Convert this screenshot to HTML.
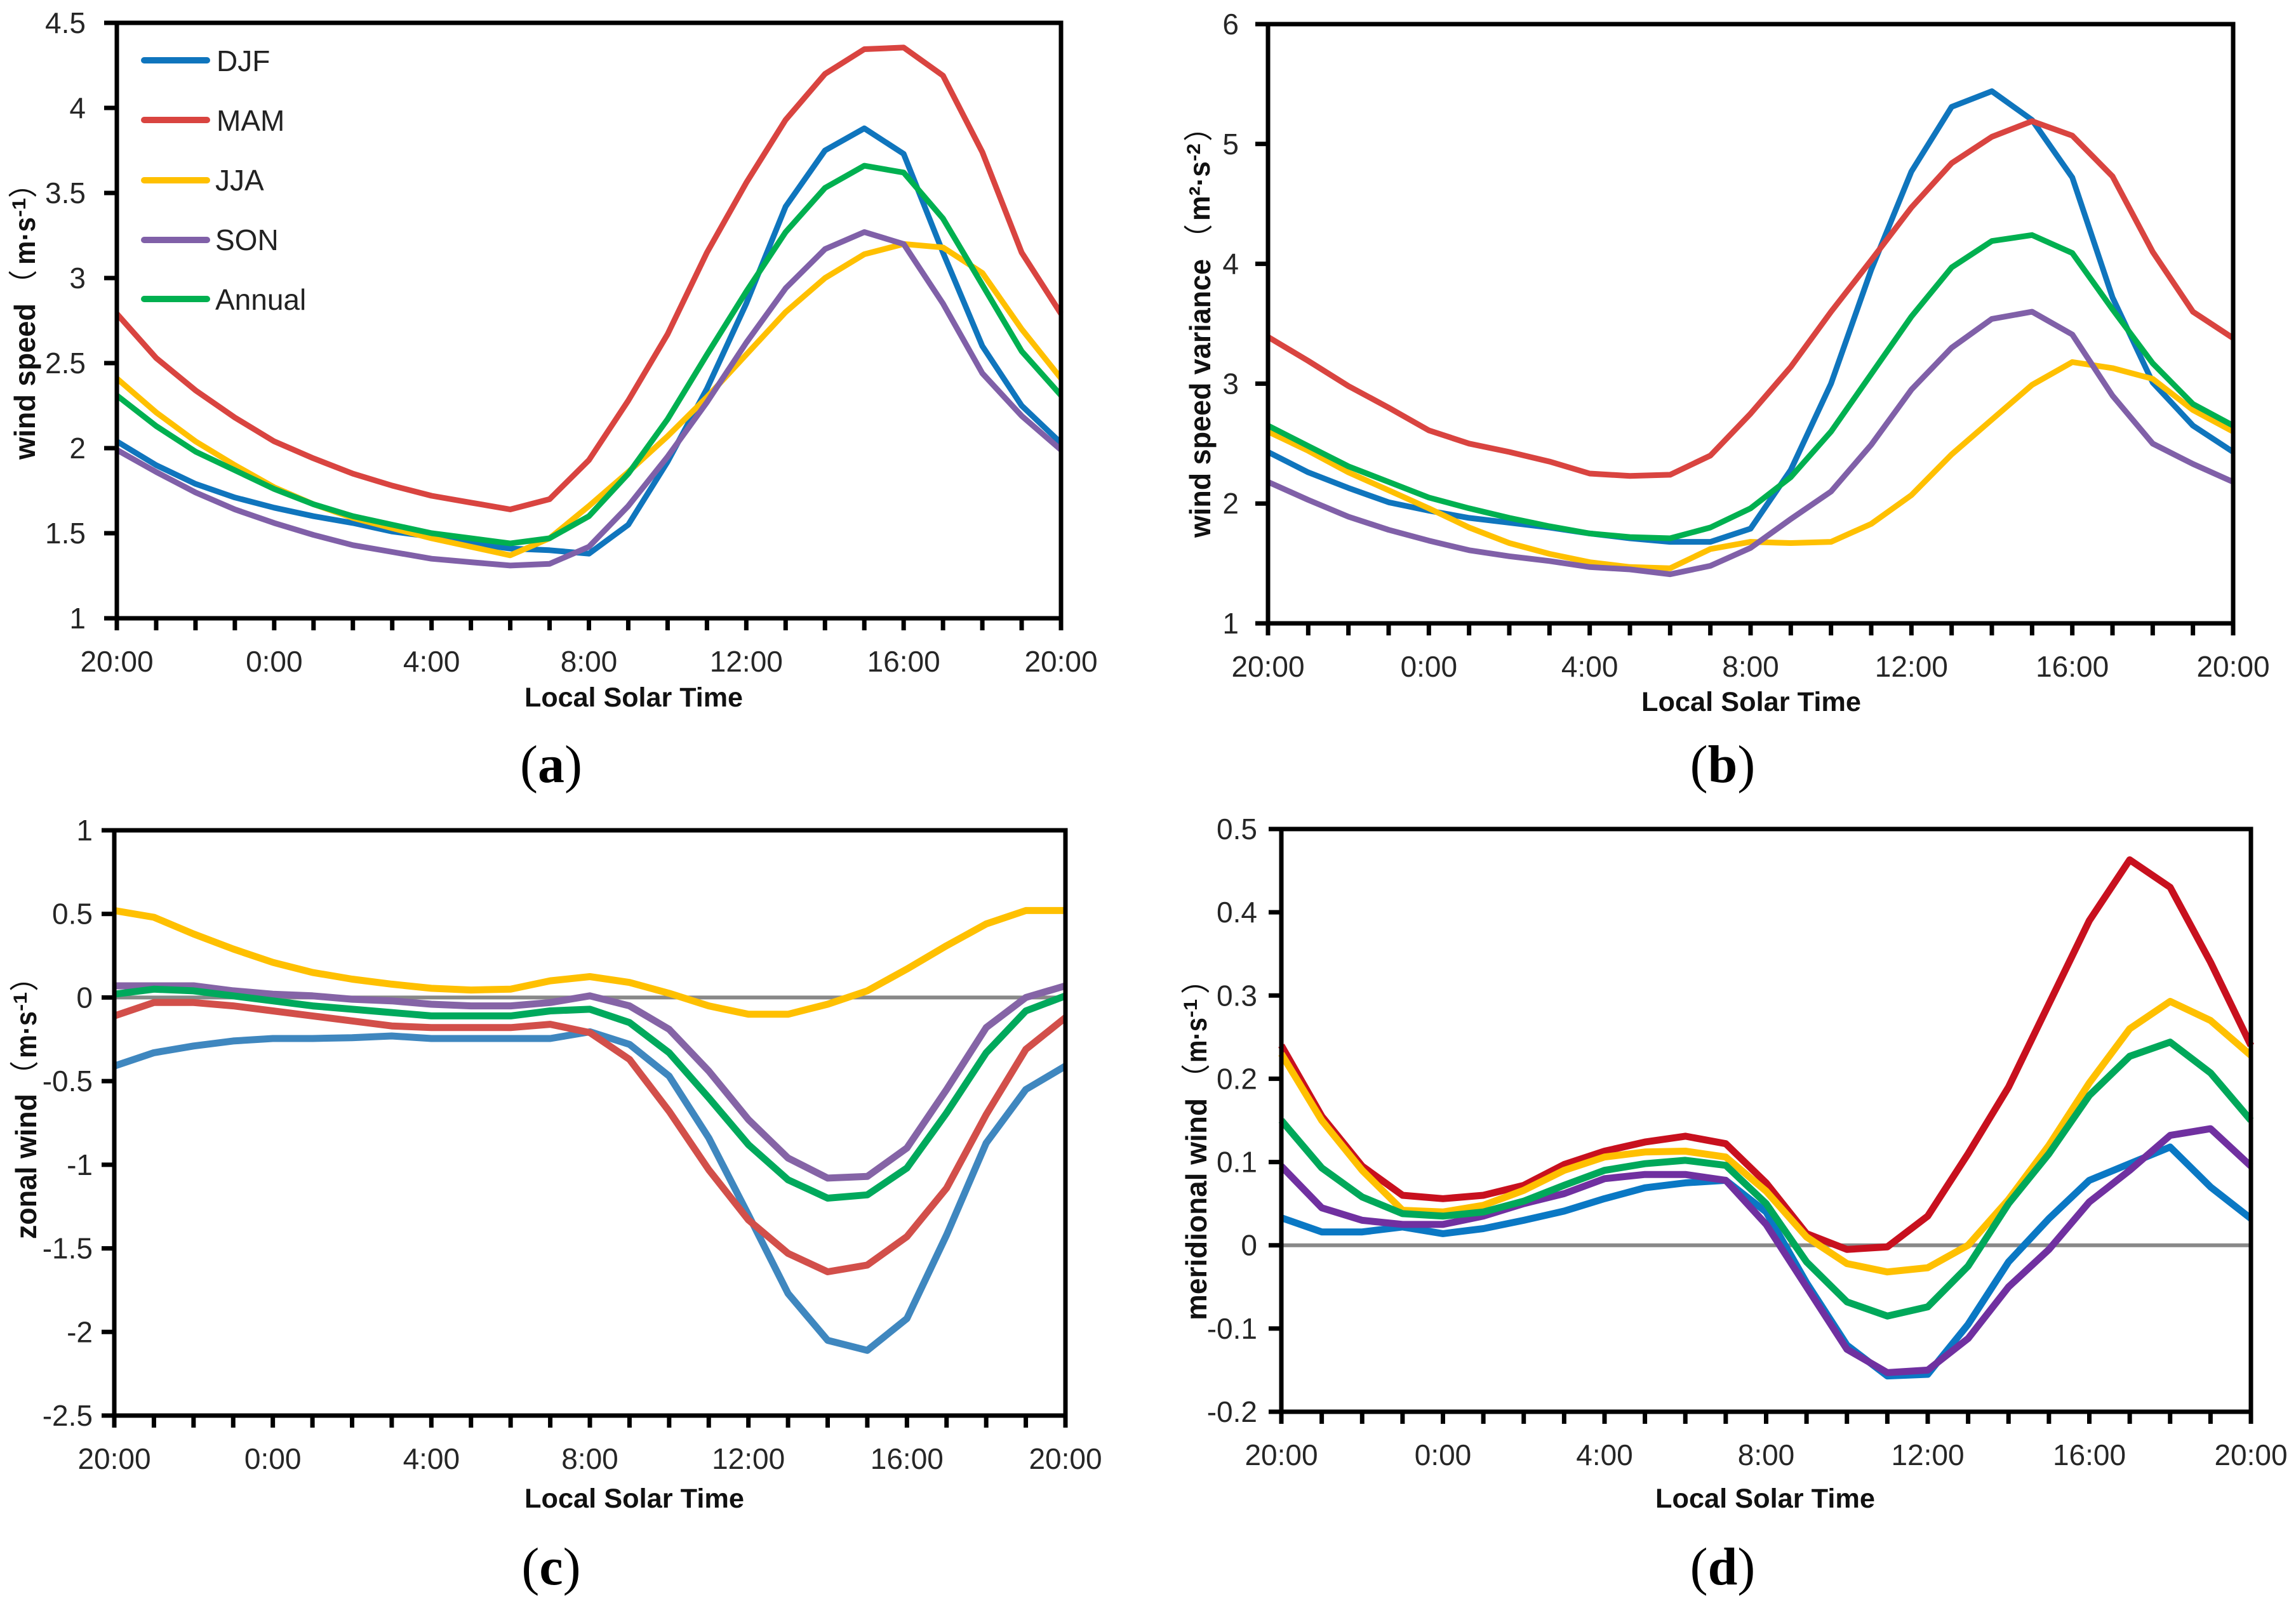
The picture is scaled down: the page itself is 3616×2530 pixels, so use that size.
<!DOCTYPE html>
<html lang="en">
<head>
<meta charset="utf-8">
<title>Diurnal wind statistics</title>
<style>
html,body{margin:0;padding:0;background:#fff;}
svg{display:block;}
.tick{font-family:"Liberation Sans",sans-serif;font-size:46px;fill:#262626;}
.xtitle{font-family:"Liberation Sans",sans-serif;font-size:43px;font-weight:bold;fill:#111;}
.ytitle{font-family:"Liberation Sans",sans-serif;font-size:46px;font-weight:bold;fill:#111;}
.ysup{font-family:"Liberation Sans",sans-serif;font-size:30px;font-weight:bold;fill:#111;}
.yparen{font-family:"Liberation Sans","Noto Sans CJK SC",sans-serif;font-size:46px;fill:#111;}
.legend{font-family:"Liberation Sans",sans-serif;font-size:46px;fill:#222;}
.plabel{font-family:"Liberation Serif",serif;font-size:84px;fill:#000;}
</style>
</head>
<body>
<svg id="fig" xmlns="http://www.w3.org/2000/svg" width="3616" height="2530" viewBox="0 0 3616 2530">
  <rect x="0" y="0" width="3616" height="2530" fill="#fff"/>

  <text class="xtitle" x="826" y="1113" textLength="344" lengthAdjust="spacingAndGlyphs">Local Solar Time</text>
  <text class="xtitle" x="2585" y="1120" textLength="346" lengthAdjust="spacingAndGlyphs">Local Solar Time</text>
  <text class="xtitle" x="826" y="2375" textLength="346" lengthAdjust="spacingAndGlyphs">Local Solar Time</text>
  <text class="xtitle" x="2607" y="2375" textLength="346" lengthAdjust="spacingAndGlyphs">Local Solar Time</text>

  <g>
    <text class="ytitle" transform="translate(55,724) rotate(-90)" textLength="246" lengthAdjust="spacingAndGlyphs">wind speed</text>
    <text class="yparen" transform="translate(53,448) rotate(-90)" text-anchor="middle">（</text>
    <text class="ytitle" transform="translate(55,417) rotate(-90)" textLength="75" lengthAdjust="spacingAndGlyphs">m·s</text>
    <text class="ysup" transform="translate(40,342) rotate(-90)" textLength="30" lengthAdjust="spacingAndGlyphs">-1</text>
    <text class="yparen" transform="translate(53,289) rotate(-90)" text-anchor="middle">）</text>
  </g>
  <g>
    <text class="ytitle" transform="translate(1906,847) rotate(-90)" textLength="439" lengthAdjust="spacingAndGlyphs">wind speed variance</text>
    <text class="yparen" transform="translate(1904,376) rotate(-90)" text-anchor="middle">（</text>
    <text class="ytitle" transform="translate(1905,348) rotate(-90)" textLength="94" lengthAdjust="spacingAndGlyphs">m²·s</text>
    <text class="ysup" transform="translate(1890,254) rotate(-90)" textLength="28" lengthAdjust="spacingAndGlyphs">-2</text>
    <text class="yparen" transform="translate(1904,200) rotate(-90)" text-anchor="middle">）</text>
  </g>
  <g>
    <text class="ytitle" transform="translate(57,1952) rotate(-90)" textLength="229" lengthAdjust="spacingAndGlyphs">zonal wind</text>
    <text class="yparen" transform="translate(55,1694) rotate(-90)" text-anchor="middle">（</text>
    <text class="ytitle" transform="translate(57,1667) rotate(-90)" textLength="74" lengthAdjust="spacingAndGlyphs">m·s</text>
    <text class="ysup" transform="translate(42,1593) rotate(-90)" textLength="30" lengthAdjust="spacingAndGlyphs">-1</text>
    <text class="yparen" transform="translate(55,1539) rotate(-90)" text-anchor="middle">）</text>
  </g>
  <g>
    <text class="ytitle" transform="translate(1900,2080) rotate(-90)" textLength="350" lengthAdjust="spacingAndGlyphs">meridional wind</text>
    <text class="yparen" transform="translate(1900,1699) rotate(-90)" text-anchor="middle">（</text>
    <text class="ytitle" transform="translate(1900,1674) rotate(-90)" textLength="71" lengthAdjust="spacingAndGlyphs">m·s</text>
    <text class="ysup" transform="translate(1885,1603) rotate(-90)" textLength="29" lengthAdjust="spacingAndGlyphs">-1</text>
    <text class="yparen" transform="translate(1900,1543) rotate(-90)" text-anchor="middle">）</text>
  </g>

  <text class="plabel" x="868" y="1232" text-anchor="middle">(<tspan font-weight="bold">a</tspan>)</text>
  <text class="plabel" x="2713" y="1232" text-anchor="middle">(<tspan font-weight="bold">b</tspan>)</text>
  <text class="plabel" x="868" y="2496" text-anchor="middle">(<tspan font-weight="bold">c</tspan>)</text>
  <text class="plabel" x="2713" y="2496" text-anchor="middle">(<tspan font-weight="bold">d</tspan>)</text>

  <g id="panels"></g>

  <g>
    <g>
      <line x1="227" y1="95" x2="326" y2="95" stroke="#0f75bd" stroke-width="10" stroke-linecap="round"/>
      <text class="legend" x="341" y="112">DJF</text>
    </g>
    <g>
      <line x1="227" y1="189" x2="326" y2="189" stroke="#d94440" stroke-width="10" stroke-linecap="round"/>
      <text class="legend" x="341" y="206">MAM</text>
    </g>
    <g>
      <line x1="227" y1="284" x2="326" y2="284" stroke="#ffc000" stroke-width="10" stroke-linecap="round"/>
      <text class="legend" x="339" y="300">JJA</text>
    </g>
    <g>
      <line x1="227" y1="378" x2="326" y2="378" stroke="#8060a8" stroke-width="10" stroke-linecap="round"/>
      <text class="legend" x="339" y="394">SON</text>
    </g>
    <g>
      <line x1="227" y1="471" x2="326" y2="471" stroke="#00b050" stroke-width="10" stroke-linecap="round"/>
      <text class="legend" x="339" y="488">Annual</text>
    </g>
  </g>
</svg>

<script>
// Categories and tick labels
const hourCategories = ['20:00','21:00','22:00','23:00','0:00','1:00','2:00','3:00','4:00','5:00','6:00','7:00','8:00','9:00','10:00','11:00','12:00','13:00','14:00','15:00','16:00','17:00','18:00','19:00','20:00'];
const xTickLabelIndices = [0, 4, 8, 12, 16, 20, 24];
const yTicksA = ['1','1.5','2','2.5','3','3.5','4','4.5'];
const yTicksB = ['1','2','3','4','5','6'];
const yTicksC = ['-2.5','-2','-1.5','-1','-0.5','0','0.5','1'];
const yTicksD = ['-0.2','-0.1','0','0.1','0.2','0.3','0.4','0.5'];

// Panel (a): wind speed
const speedDJF = [2.04,1.90,1.79,1.71,1.65,1.60,1.56,1.51,1.48,1.44,1.41,1.40,1.38,1.55,1.92,2.35,2.85,3.42,3.75,3.88,3.73,3.15,2.60,2.25,2.03];
const speedMAM = [2.79,2.53,2.34,2.18,2.04,1.94,1.85,1.78,1.72,1.68,1.64,1.70,1.93,2.28,2.67,3.15,3.56,3.93,4.20,4.345,4.355,4.19,3.74,3.15,2.79];
const speedJJA = [2.41,2.21,2.04,1.90,1.77,1.67,1.59,1.53,1.47,1.42,1.37,1.47,1.66,1.86,2.07,2.30,2.55,2.80,3.00,3.14,3.20,3.18,3.03,2.70,2.41];
const speedSON = [1.99,1.86,1.74,1.64,1.56,1.49,1.43,1.39,1.35,1.33,1.31,1.32,1.42,1.66,1.95,2.27,2.62,2.94,3.17,3.27,3.20,2.85,2.44,2.19,1.99];
const speedAnnual = [2.31,2.13,1.98,1.87,1.76,1.67,1.60,1.55,1.50,1.47,1.44,1.47,1.60,1.85,2.17,2.55,2.92,3.27,3.53,3.66,3.62,3.35,2.96,2.57,2.31];

// Panel (b): wind speed variance
const varianceDJF = [2.43,2.26,2.13,2.01,1.94,1.88,1.84,1.80,1.75,1.71,1.68,1.68,1.79,2.28,3.00,3.95,4.77,5.31,5.44,5.20,4.72,3.72,3.01,2.65,2.43];
const varianceMAM = [3.39,3.19,2.98,2.80,2.61,2.50,2.43,2.35,2.25,2.23,2.24,2.40,2.75,3.14,3.60,4.03,4.47,4.84,5.06,5.19,5.07,4.73,4.10,3.60,3.38];
const varianceJJA = [2.60,2.44,2.26,2.11,1.96,1.80,1.67,1.58,1.51,1.47,1.46,1.62,1.68,1.67,1.68,1.83,2.07,2.41,2.70,2.99,3.18,3.13,3.04,2.78,2.60];
const varianceSON = [2.18,2.03,1.89,1.78,1.69,1.61,1.56,1.52,1.47,1.45,1.41,1.48,1.63,1.87,2.10,2.49,2.95,3.30,3.54,3.60,3.41,2.90,2.50,2.33,2.18];
const varianceAnnual = [2.65,2.48,2.31,2.18,2.05,1.96,1.88,1.81,1.75,1.72,1.71,1.80,1.96,2.22,2.60,3.08,3.56,3.97,4.19,4.24,4.09,3.62,3.17,2.83,2.65];

// Panel (c): zonal wind
const zonalDJF = [-0.41,-0.33,-0.29,-0.26,-0.245,-0.245,-0.24,-0.23,-0.245,-0.245,-0.245,-0.245,-0.205,-0.28,-0.47,-0.84,-1.30,-1.77,-2.05,-2.11,-1.92,-1.42,-0.87,-0.55,-0.41];
const zonalMAM = [-0.11,-0.03,-0.03,-0.05,-0.08,-0.11,-0.14,-0.17,-0.18,-0.18,-0.18,-0.16,-0.21,-0.37,-0.68,-1.03,-1.33,-1.53,-1.64,-1.60,-1.43,-1.14,-0.70,-0.31,-0.12];
const zonalJJA = [0.52,0.48,0.38,0.29,0.21,0.15,0.11,0.08,0.055,0.045,0.05,0.10,0.125,0.09,0.025,-0.05,-0.10,-0.10,-0.04,0.04,0.17,0.31,0.44,0.52,0.52];
const zonalSON = [0.07,0.07,0.07,0.04,0.02,0.01,-0.01,-0.02,-0.04,-0.05,-0.05,-0.03,0.01,-0.05,-0.19,-0.44,-0.73,-0.96,-1.08,-1.07,-0.90,-0.55,-0.18,0.0,0.07];
const zonalAnnual = [0.02,0.05,0.04,0.01,-0.02,-0.05,-0.07,-0.09,-0.11,-0.11,-0.11,-0.08,-0.07,-0.15,-0.33,-0.60,-0.88,-1.09,-1.20,-1.18,-1.02,-0.69,-0.33,-0.08,0.01];

// Panel (d): meridional wind
const meridionalDJF = [0.033,0.016,0.016,0.022,0.014,0.02,0.03,0.041,0.056,0.069,0.075,0.078,0.04,-0.045,-0.12,-0.157,-0.155,-0.095,-0.02,0.032,0.078,0.098,0.118,0.07,0.032];
const meridionalMAM = [0.24,0.155,0.095,0.06,0.056,0.06,0.072,0.097,0.113,0.124,0.131,0.122,0.075,0.014,-0.005,-0.002,0.035,0.11,0.19,0.29,0.39,0.463,0.43,0.34,0.24];
const meridionalJJA = [0.23,0.15,0.09,0.042,0.04,0.048,0.066,0.09,0.106,0.112,0.113,0.106,0.065,0.01,-0.022,-0.032,-0.027,0.0,0.055,0.12,0.195,0.26,0.293,0.27,0.228];
const meridionalSON = [0.095,0.045,0.03,0.025,0.025,0.035,0.05,0.062,0.08,0.085,0.085,0.078,0.025,-0.05,-0.125,-0.153,-0.15,-0.112,-0.05,-0.005,0.052,0.09,0.132,0.14,0.095];
const meridionalAnnual = [0.15,0.093,0.058,0.038,0.035,0.04,0.053,0.072,0.09,0.098,0.102,0.096,0.05,-0.02,-0.068,-0.085,-0.074,-0.025,0.05,0.11,0.18,0.227,0.244,0.207,0.15];

const seriesNames = ['djf','mam','jja','son','annual'];
const SVG_NS = 'http://www.w3.org/2000/svg';
const panelsRoot = document.getElementById('panels');

function makeLine(parent, x1, y1, x2, y2, color, width) {
  const el = document.createElementNS(SVG_NS, 'line');
  el.setAttribute('x1', x1);
  el.setAttribute('y1', y1);
  el.setAttribute('x2', x2);
  el.setAttribute('y2', y2);
  el.setAttribute('stroke', color);
  el.setAttribute('stroke-width', width);
  parent.appendChild(el);
  return el;
}

function drawPanel(id, box, yTicks, seriesList, colors, lineWidth, labelGap, showZero) {
  const yMin = Number(yTicks[0]);
  const yMax = Number(yTicks[yTicks.length - 1]);
  const xScale = function (i) { return box.x0 + (box.x1 - box.x0) * i / (hourCategories.length - 1); };
  const yScale = function (v) { return box.y1 - (box.y1 - box.y0) * (v - yMin) / (yMax - yMin); };

  const group = document.createElementNS(SVG_NS, 'g');
  
  
  panelsRoot.appendChild(group);

  // Zero reference line
  if (showZero) {
    const zero = makeLine(group, box.x0, yScale(0), box.x1, yScale(0), '#888888', 6);
    
    
  }

  // Series
  seriesList.forEach(function (values, s) {
    const pts = values.map(function (v, i) { return xScale(i).toFixed(1) + ',' + yScale(v).toFixed(1); }).join(' ');
    const poly = document.createElementNS(SVG_NS, 'polyline');
    poly.setAttribute('points', pts);
    poly.setAttribute('fill', 'none');
    poly.setAttribute('stroke', colors[s]);
    poly.setAttribute('stroke-width', lineWidth);
    poly.setAttribute('stroke-linejoin', 'round');
    
    
    group.appendChild(poly);
  });

  // Frame
  const frame = document.createElementNS(SVG_NS, 'rect');
  frame.setAttribute('x', box.x0);
  frame.setAttribute('y', box.y0);
  frame.setAttribute('width', box.x1 - box.x0);
  frame.setAttribute('height', box.y1 - box.y0);
  frame.setAttribute('fill', 'none');
  frame.setAttribute('stroke', '#000');
  frame.setAttribute('stroke-width', 7);
  
  
  group.appendChild(frame);

  // Y ticks and labels
  yTicks.forEach(function (label) {
    const y = yScale(Number(label));
    const tick = makeLine(group, box.x0 - 20, y, box.x0, y, '#000', 7);
    
    
    const txt = document.createElementNS(SVG_NS, 'text');
    txt.setAttribute('class', 'tick');
    txt.setAttribute('x', box.x0 - labelGap);
    txt.setAttribute('y', y + 16);
    txt.setAttribute('text-anchor', 'end');
    
    
    txt.textContent = label;
    group.appendChild(txt);
  });

  // X ticks and labels
  hourCategories.forEach(function (label, i) {
    const x = xScale(i);
    const tick = makeLine(group, x, box.y1, x, box.y1 + 19, '#000', 7);
    
    
  });
  xTickLabelIndices.forEach(function (i) {
    const txt = document.createElementNS(SVG_NS, 'text');
    txt.setAttribute('class', 'tick');
    txt.setAttribute('x', xScale(i));
    txt.setAttribute('y', box.y1 + 84);
    txt.setAttribute('text-anchor', 'middle');
    
    
    txt.textContent = hourCategories[i];
    group.appendChild(txt);
  });
}

const colorsTop = ['#0f75bd', '#d94440', '#ffc000', '#8060a8', '#00b050'];
const colorsC = ['#3f87bf', '#d24f4a', '#ffc000', '#8564a6', '#00a95c'];
const colorsD = ['#0a78c4', '#c8101e', '#ffc000', '#7030a0', '#00a85a'];

drawPanel('a', {x0: 184, x1: 1671, y0: 36, y1: 974}, yTicksA,
  [speedDJF, speedMAM, speedJJA, speedSON, speedAnnual], colorsTop, 9, 49, false);
drawPanel('b', {x0: 1997, x1: 3517, y0: 38, y1: 982}, yTicksB,
  [varianceDJF, varianceMAM, varianceJJA, varianceSON, varianceAnnual], colorsTop, 9, 46, false);
drawPanel('c', {x0: 180, x1: 1678, y0: 1308, y1: 2230}, yTicksC,
  [zonalDJF, zonalMAM, zonalJJA, zonalSON, zonalAnnual], colorsC, 11, 34, true);
drawPanel('d', {x0: 2018, x1: 3545, y0: 1306, y1: 2224}, yTicksD,
  [meridionalDJF, meridionalMAM, meridionalJJA, meridionalSON, meridionalAnnual], colorsD, 11, 38, true);
</script>
</body>
</html>
